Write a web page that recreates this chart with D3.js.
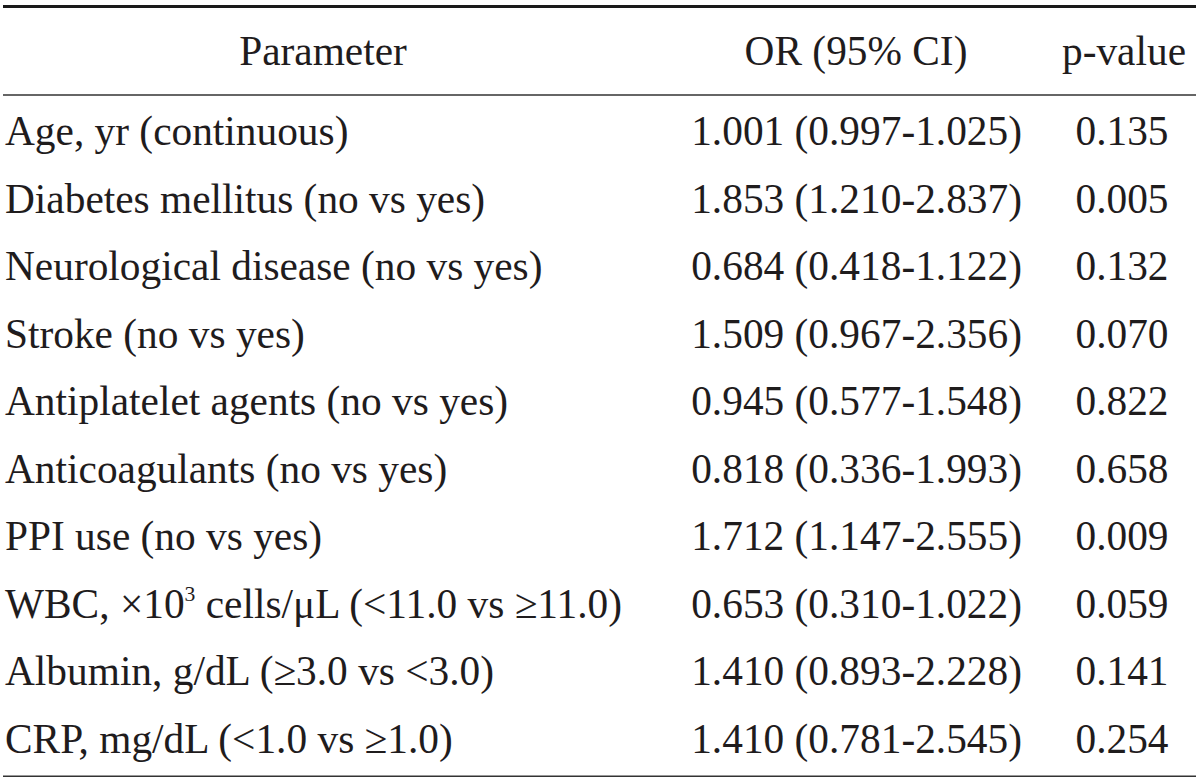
<!DOCTYPE html>
<html><head><meta charset="utf-8">
<script src="https://cdn.jsdelivr.net/npm/d3@7"></script>
<style>body{margin:0;background:#fff}svg{display:block}</style>
</head><body>
<script>
const headers = ["Parameter", "OR (95% CI)", "p-value"];
const parameters = [
  "Age, yr (continuous)",
  "Diabetes mellitus (no vs yes)",
  "Neurological disease (no vs yes)",
  "Stroke (no vs yes)",
  "Antiplatelet agents (no vs yes)",
  "Anticoagulants (no vs yes)",
  "PPI use (no vs yes)",
  "WBC, ×10³ cells/μL (<11.0 vs ≥11.0)",
  "Albumin, g/dL (≥3.0 vs <3.0)",
  "CRP, mg/dL (<1.0 vs ≥1.0)"
];
const orValues = ["1.001","1.853","0.684","1.509","0.945","0.818","1.712","0.653","1.410","1.410"];
const ciLower = ["0.997","1.210","0.418","0.967","0.577","0.336","1.147","0.310","0.893","0.781"];
const ciUpper = ["1.025","2.837","1.122","2.356","1.548","1.993","2.555","1.022","2.228","2.545"];
const pValues = ["0.135","0.005","0.132","0.070","0.822","0.658","0.009","0.059","0.141","0.254"];

const W = 1200, H = 781;
const svg = d3.select("body").append("svg").attr("width", W).attr("height", H);
const font = "'Liberation Serif', 'Times New Roman', serif";
const fs = 42;
const sx = 0.985;

const y = d3.scaleBand().domain(d3.range(parameters.length)).range([102.2, 777.7]);
const colX = {param: 5, paramHead: 323, orRight: 1022, orHead: 856, p: 1122, pHead: 1124};

svg.append("line").attr("x1",3).attr("x2",1196).attr("y1",6.5).attr("y2",6.5).attr("stroke","#1a1a1a").attr("stroke-width",3);
svg.append("line").attr("x1",3).attr("x2",1196).attr("y1",95).attr("y2",95).attr("stroke","#333").attr("stroke-width",1.5);
svg.append("line").attr("x1",3).attr("x2",1196).attr("y1",776.3).attr("y2",776.3).attr("stroke","#333").attr("stroke-width",1.5);

function txt(x, yy, s, anchor){
  const g = svg.append("g").attr("transform", `translate(${x},${yy}) scale(${sx},1)`);
  return g.append("text").attr("x",0).attr("y",0).attr("text-anchor",anchor)
    .attr("font-family",font).attr("font-size",fs).attr("fill","#1f1c1d").text(s);
}
const hb = 65;
txt(colX.paramHead, hb, headers[0], "middle");
txt(colX.orHead, hb, headers[1], "middle");
txt(colX.pHead, hb, headers[2], "middle");

parameters.forEach((p, i) => {
  const base = y(i) + y.bandwidth()/2 + 9;
  if (p.includes("³")) {
    const parts = p.split("³");
    const t = txt(colX.param, base, null, "start");
    t.append("tspan").text(parts[0]);
    t.append("tspan").attr("dy",-17).attr("font-size",22).text("3");
    t.append("tspan").attr("dy",17).text(parts[1]);
  } else txt(colX.param, base, p, "start");
  txt(colX.orRight, base, `${orValues[i]} (${ciLower[i]}-${ciUpper[i]})`, "end");
  txt(colX.p, base, pValues[i], "middle");
});
</script>
</body></html>
